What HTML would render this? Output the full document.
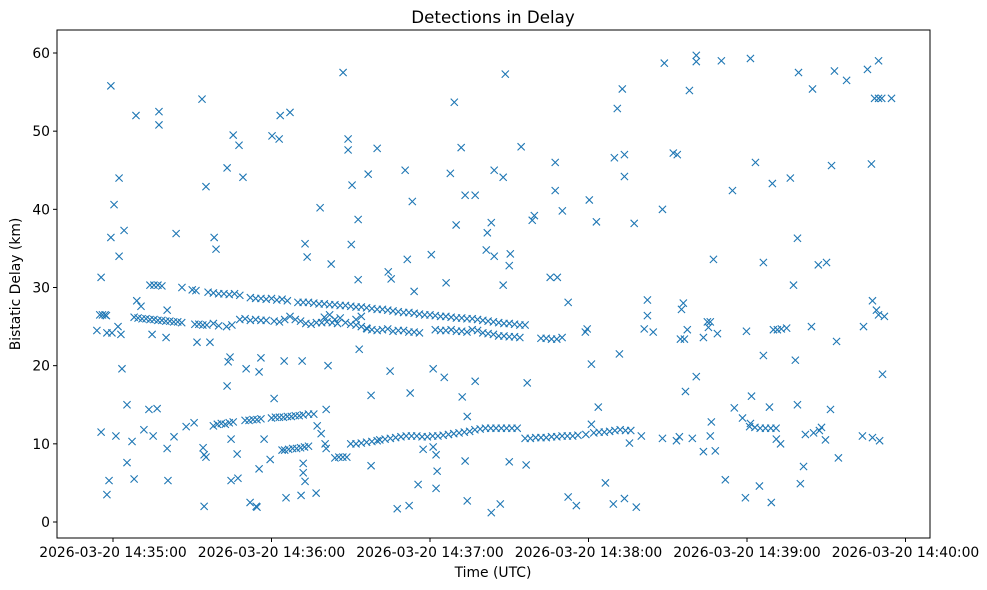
<!DOCTYPE html>
<html><head><meta charset="utf-8"><title>Detections in Delay</title>
<style>
html,body{margin:0;padding:0;background:#fff;}
svg{display:block;font-family:"DejaVu Sans","Liberation Sans",sans-serif;}
</style></head>
<body>
<svg id="chart" width="987" height="590" viewBox="0 0 987 590">
<rect x="0" y="0" width="987" height="590" fill="#fff"/>
<text x="493" y="23" text-anchor="middle" font-size="16.7" fill="#000">Detections in Delay</text>
<g id="marks"></g>
<rect x="57" y="30" width="873" height="508" fill="none" stroke="#000" stroke-width="1"/>
<g id="xaxis"></g>
<g id="yaxis"></g>
<text x="493" y="577" text-anchor="middle" font-size="13.9" fill="#000">Time (UTC)</text>
<text x="20" y="284" text-anchor="middle" font-size="13.9" fill="#000" transform="rotate(-90 20 284)">Bistatic Delay (km)</text>
</svg>
<script>
// seconds after 14:35:00, delay in km
const xTickSeconds = [0, 60, 120, 180, 240, 300];
const xTickLabels = ["2026-03-20 14:35:00","2026-03-20 14:36:00","2026-03-20 14:37:00","2026-03-20 14:38:00","2026-03-20 14:39:00","2026-03-20 14:40:00"];
const yTickValues = [0, 10, 20, 30, 40, 50, 60];
const upperBandLow = [[8,26.2],[9.5,26.1],[11,26],[12.5,26],[14,25.9],[15.5,25.9],[17,25.8],[18.5,25.8],[20,25.7],[21.5,25.7],[23,25.6],[24.5,25.6],[26,25.5],[31,25.3],[32.5,25.3],[34,25.2],[35.5,25.2],[38,25.4],[40,25.1],[43,25],[45,25.2],[48,25.9],[50,26],[52,25.8],[54,25.9],[56,25.8],[58,25.8],[61,25.7],[63,25.6],[65,25.9],[67,26.3],[69,25.9],[71,25.7],[73,25.4],[75,25.3],[77,25.5],[79,25.5],[81,25.6],[83,25.5],[85,25.4],[88,25.5],[90,25.3],[92,25.2],[94,25],[96,24.8],[98,24.6],[100,24.5],[102,24.6],[104,24.7],[106,24.4],[108,24.5],[110,24.5],[112,24.3],[114,24.3],[116,24.2],[122,24.6],[124,24.5],[126,24.5],[128,24.6],[130,24.4],[132,24.4],[134,24.3],[136,24.6],[138,24.5],[140,24.2],[142,24.1],[144,24],[146,23.8],[148,23.8],[150,23.7],[152,23.7],[154,23.6],[162,23.5],[164,23.5],[166,23.4],[168,23.4],[170,23.6]];
const upperBandHigh = [[30,29.7],[36,29.4],[38,29.3],[40,29.2],[42,29.2],[44,29.1],[46,29.2],[48,29],[52,28.7],[54,28.6],[56,28.6],[58,28.5],[60,28.6],[62,28.4],[64,28.5],[66,28.3],[70,28.1],[72,28.1],[74,28.1],[76,28],[78,27.9],[80,27.9],[82,27.8],[84,27.8],[86,27.7],[88,27.7],[90,27.6],[92,27.5],[94,27.5],[96,27.4],[98,27.3],[100,27.2],[102,27.2],[104,27.1],[106,27],[108,26.9],[110,26.8],[112,26.8],[114,26.7],[116,26.6],[118,26.5],[120,26.5],[122,26.4],[124,26.3],[126,26.3],[128,26.2],[130,26.1],[132,26.1],[134,26],[136,26],[138,25.9],[140,25.8],[142,25.7],[144,25.6],[146,25.5],[148,25.4],[150,25.4],[152,25.3],[154,25.2],[156,25.2],[-5,26.5],[-4,26.5],[-3,26.5],[-2.5,26.4],[9,28.3],[10.6,27.6],[14,30.3],[15.5,30.3],[17,30.3],[18.5,30.2],[80,26.2],[82,26.5],[84,25.9],[86,26.1],[92,25.9],[94,26.3]];
const lowerBand = [[38,12.3],[39.5,12.5],[41,12.6],[42.5,12.5],[44,12.7],[45.5,12.8],[50,13],[51.5,13],[53,13.1],[54.5,13.1],[56,13.2],[60,13.3],[61.5,13.4],[63,13.4],[64.5,13.4],[66,13.5],[67.5,13.5],[69,13.6],[70.5,13.6],[72,13.7],[74,13.8],[76,13.8],[65,9.2],[66.5,9.3],[68,9.4],[69.5,9.4],[71,9.5],[72.5,9.6],[74,9.7],[84,8.2],[85.5,8.3],[87,8.3],[88.5,8.3],[90,10],[92,10],[94,10.1],[96,10.2],[98,10.3],[100,10.4],[101,10.5],[103,10.6],[105,10.7],[107,10.8],[109,10.9],[111,11],[113,11],[115,11],[117,10.9],[119,10.9],[121,11],[123,11],[125,11.1],[127,11.2],[129,11.3],[131,11.4],[133,11.5],[135,11.6],[137,11.8],[139,11.9],[141,12],[143,12],[145,12],[147,12],[149,12],[151,12],[153,12],[156,10.7],[158,10.7],[160,10.8],[162,10.8],[164,10.8],[166,10.9],[168,10.9],[170,11],[172,11],[174,11],[176,11.1],[179,11.2],[182,11.4],[184,11.5],[186,11.5],[188,11.6],[190,11.7],[192,11.8],[194,11.7],[196,11.7],[241,12.2],[243,12.1],[245,12],[247,12],[249,12],[251,12]];
const scattered = [[-6.1,24.5],[-4.5,31.3],[-4.5,11.5],[-2.3,24.2],[-2.3,3.5],[-1.5,5.3],[-0.8,55.8],[-0.8,36.4],[-0.4,24.2],[0.4,40.6],[1.1,11],[1.9,25],[2.3,44],[2.3,34],[3,24],[3.4,19.6],[4.2,37.3],[5.3,15],[5.3,7.6],[7.2,10.3],[8,5.5],[8.7,52],[11.7,11.8],[13.6,14.4],[14.8,24],[16.7,14.5],[17.4,52.5],[17.4,50.8],[15.2,11],[20.5,9.4],[20.8,5.3],[20.5,27.1],[20.1,23.6],[23.9,36.9],[23.1,10.9],[26.1,30],[27.7,12.2],[30.7,12.7],[31.8,23],[31.4,29.6],[33.7,54.1],[35.2,42.9],[34.5,8.6],[35.2,8.3],[34.5,2],[34.1,9.5],[36.7,23],[38.3,36.4],[39,34.9],[43.2,17.4],[43.2,45.3],[45.5,49.5],[47.7,48.2],[49.2,44.1],[43.6,20.5],[44.3,21.1],[44.7,5.3],[47.3,5.6],[44.7,10.6],[47,8.7],[50.4,19.6],[51.9,2.5],[54.2,2],[54.5,1.9],[56,21],[55.3,19.2],[55.3,6.8],[57.2,10.6],[60.2,49.4],[62.9,49],[63.3,52],[67,52.4],[61,15.8],[59.5,8],[64,9.2],[65.5,3.1],[64.8,20.6],[71.2,3.4],[71.6,20.6],[72.7,35.6],[73.5,33.9],[72.7,5.2],[72,6.3],[72,7.5],[76.9,3.7],[78.4,40.2],[77.3,12.3],[78.8,11.3],[80.7,14.4],[80.3,10],[80.7,9.4],[81.4,20],[82.6,33],[87.1,57.5],[89,49],[89,47.6],[90.2,35.5],[90.5,43.1],[92.8,38.7],[92.8,31],[93.2,22.1],[96.2,24.7],[96.6,44.5],[100,47.8],[97.7,7.2],[97.7,16.2],[104.9,19.3],[104.2,32],[105.3,31.1],[110.6,45],[111.4,33.6],[112.5,16.5],[113.3,41],[114,29.5],[107.6,1.7],[112.1,2.1],[115.5,4.8],[117.4,9.3],[120.5,34.2],[121.2,19.6],[125.4,18.5],[122.7,6.5],[122.3,4.3],[122.3,8.6],[121.2,9.6],[126.1,30.6],[127.7,44.6],[129.2,53.7],[129.9,38],[131.8,47.9],[133.3,41.8],[137.1,41.8],[132.2,16],[134.1,13.5],[133.3,7.8],[134.1,2.7],[137.1,18],[141.7,37],[141.3,34.8],[143.2,38.3],[144.3,34],[144.3,45],[147.7,44.1],[148.5,57.3],[147.7,30.3],[143.2,1.2],[146.6,2.3],[150,7.7],[150,32.8],[150.4,34.3],[154.5,48],[156.8,17.8],[156.4,7.3],[158.7,38.6],[159.5,39.2],[165.5,31.3],[168.2,31.3],[170.1,39.8],[167.4,46],[167.4,42.4],[172.3,28.1],[172.3,3.2],[175.4,2.1],[178.8,24.3],[179.5,24.7],[180.3,41.2],[181.1,20.2],[183,38.4],[181.1,12.5],[183.7,14.7],[186.4,5],[189.4,2.3],[191.7,21.5],[189.8,46.6],[190.9,52.9],[192.8,55.4],[193.6,47],[193.6,44.2],[193.6,3],[195.5,10.1],[197.3,38.2],[198.1,1.9],[200,11],[201.1,24.7],[202.3,28.4],[202.3,26.4],[204.5,24.3],[208,40],[208.7,58.7],[208,10.7],[213.3,10.4],[212.1,47.2],[213.6,47],[214.4,10.9],[214.8,23.4],[216.3,23.4],[215.9,28],[215.2,27.2],[216.7,16.7],[217.4,24.6],[218.2,55.2],[220.8,59.7],[220.8,58.9],[220.8,18.6],[219.3,10.7],[223.5,9],[223.5,23.6],[225,25.6],[226.1,25.6],[225.4,24.9],[226.1,11],[226.5,12.8],[227.3,33.6],[228,9.1],[228.8,24.1],[230.3,59],[231.8,5.4],[234.5,42.4],[235.2,14.6],[238.3,13.3],[239.4,3.1],[239.8,24.4],[241.3,59.3],[241.3,12.6],[241.7,16.1],[243.2,46],[244.7,4.6],[246.2,33.2],[246.2,21.3],[248.5,14.7],[249.2,2.5],[249.6,43.3],[250,24.6],[251.5,24.6],[253,24.7],[255,24.8],[251.1,10.6],[252.7,10],[256.4,44],[257.6,30.3],[258.3,20.7],[259.1,36.3],[259.5,57.5],[259.1,15],[260.2,4.9],[261.4,7.1],[262.1,11.2],[264.4,25],[264.8,55.4],[265.2,11.4],[267.4,11.7],[267,32.9],[268.2,12.1],[270.1,33.2],[269.7,10.5],[271.6,14.4],[272,45.6],[273.1,57.7],[273.9,23.1],[274.6,8.2],[277.7,56.5],[283.7,11],[284.1,25],[285.6,57.9],[287.1,45.8],[287.5,28.3],[288.3,54.2],[289.8,54.2],[291,54.2],[287.5,10.8],[289,27.1],[289.8,59],[290.2,10.4],[289.8,26.5],[292,26.3],[291.3,18.9],[294.7,54.2]];

const X0 = 113, PX_PER_S = 158.5 / 60;
const Y0 = 522, PX_PER_KM = (522 - 53) / 60;
function xScale(t){ return X0 + t * PX_PER_S; }
function yScale(v){ return Y0 - v * PX_PER_KM; }
const NS = "http://www.w3.org/2000/svg";
const marks = document.getElementById("marks");
const allPoints = upperBandLow.concat(upperBandHigh, lowerBand, scattered);
allPoints.forEach(function(p){
  const cx = xScale(p[0]), cy = yScale(p[1]), r = 3.6;
  const path = document.createElementNS(NS, "path");
  path.setAttribute("d", "M"+(cx-r)+" "+(cy-r)+"L"+(cx+r)+" "+(cy+r)+"M"+(cx-r)+" "+(cy+r)+"L"+(cx+r)+" "+(cy-r));
  path.setAttribute("stroke", "#1f77b4");
  path.setAttribute("stroke-width", "1.1");
  path.setAttribute("fill", "none");
  
  
  marks.appendChild(path);
});
const xaxis = document.getElementById("xaxis");
xTickSeconds.forEach(function(t, i){
  const x = xScale(t);
  const ln = document.createElementNS(NS, "line");
  ln.setAttribute("x1", x); ln.setAttribute("x2", x);
  ln.setAttribute("y1", 538); ln.setAttribute("y2", 542);
  ln.setAttribute("stroke", "#000");
  
  
  xaxis.appendChild(ln);
  const tx = document.createElementNS(NS, "text");
  tx.setAttribute("x", x); tx.setAttribute("y", 557);
  tx.setAttribute("text-anchor", "middle");
  tx.setAttribute("font-size", "13.9");
  tx.textContent = xTickLabels[i];
  
  
  xaxis.appendChild(tx);
});
const yaxis = document.getElementById("yaxis");
yTickValues.forEach(function(v){
  const y = yScale(v);
  const ln = document.createElementNS(NS, "line");
  ln.setAttribute("x1", 53); ln.setAttribute("x2", 57);
  ln.setAttribute("y1", y); ln.setAttribute("y2", y);
  ln.setAttribute("stroke", "#000");
  
  
  yaxis.appendChild(ln);
  const tx = document.createElementNS(NS, "text");
  tx.setAttribute("x", 50); tx.setAttribute("y", y + 5);
  tx.setAttribute("text-anchor", "end");
  tx.setAttribute("font-size", "13.9");
  tx.textContent = String(v);
  
  
  yaxis.appendChild(tx);
});
</script>
</body></html>
